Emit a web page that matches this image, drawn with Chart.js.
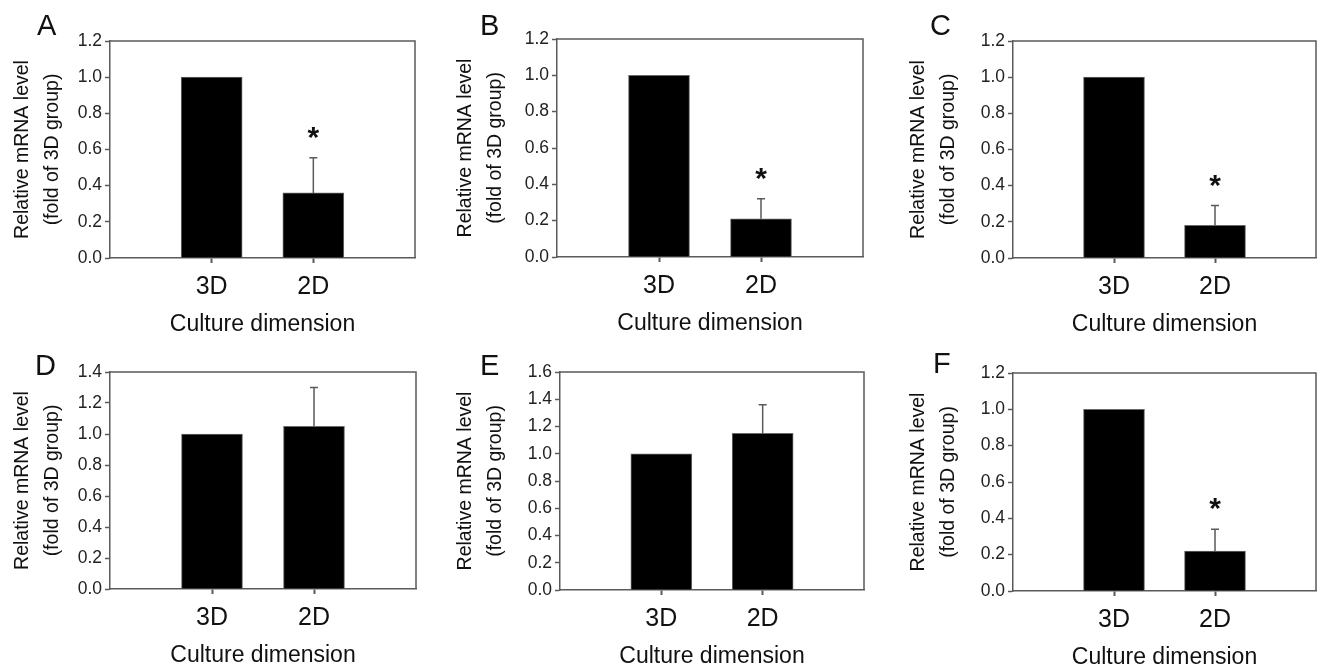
<!DOCTYPE html>
<html>
<head>
<meta charset="utf-8">
<script src="https://cdn.jsdelivr.net/npm/chart.js@4.4.1/dist/chart.umd.min.js"></script>
<style>
  html, body { margin: 0; padding: 0; background: #fff; }
  body { width: 1317px; height: 668px; position: relative; overflow: hidden; }
  canvas { position: absolute; }
</style>
</head>
<body>
<script>
// values
const panelNames = ['A', 'B', 'C', 'D', 'E', 'F'];
const groupLabels = ['3D', '2D'];
const value3D = [1.0, 1.0, 1.0, 1.0, 1.0, 1.0];
const value2D = [0.36, 0.21, 0.18, 1.05, 1.15, 0.22];
const error2D = [0.195, 0.11, 0.11, 0.25, 0.21, 0.12];
const starred = [true, true, true, false, false, true];
const yMaxima = [1.2, 1.2, 1.2, 1.4, 1.6, 1.2];
const yStep = 0.2;
const yTitleLines = ['Relative mRNA level', '(fold of 3D group)'];
const xTitleText = 'Culture dimension';

// page layout (px): plot box [left, top, right, bottom], panel letter [left, baseline], y title first line centre x
const plotBoxes = [[110, 41, 415, 258], [557, 39, 863, 257], [1013, 41, 1316, 258],
                   [110, 372, 416, 589], [560, 372, 864, 590], [1013, 373, 1316, 591]];
const letterSpots = [[37, 35], [480, 35], [930, 35], [35, 375], [480, 375], [933, 373]];
const yTitleCentres = [23, 466, 919, 23, 466, 919];

const FONT = '"Liberation Sans", Arial, Helvetica, sans-serif';
const AXIS = '#5a5a5a';
const NONE = 'rgba(0,0,0,0)';
const YAXIS_W = 115, XAXIS_H = 85, PAD_TOP = 45, PAD_RIGHT = 20;
const Y_TITLE_SIZE = 19.5, Y_TITLE_LH = 1.5;

// frame, error bars, asterisks and panel letter
const extrasPlugin = {
  id: 'extras',
  afterDraw(chart, args, opts) {
    const { ctx, chartArea: a, scales: { y } } = chart;
    ctx.save();
    ctx.strokeStyle = AXIS;
    ctx.lineWidth = 1.5;
    ctx.beginPath();
    ctx.moveTo(a.left, a.top);
    ctx.lineTo(a.right, a.top);
    ctx.lineTo(a.right, a.bottom);
    ctx.stroke();

    const meta = chart.getDatasetMeta(0);
    const values = chart.data.datasets[0].data;
    opts.errors.forEach((err, i) => {
      if (!err) return;
      const bar = meta.data[i];
      const yErr = y.getPixelForValue(values[i] + err);
      ctx.strokeStyle = AXIS;
      ctx.lineWidth = 1.5;
      ctx.beginPath();
      ctx.moveTo(bar.x, bar.y);
      ctx.lineTo(bar.x, yErr);
      ctx.moveTo(bar.x - 4, yErr);
      ctx.lineTo(bar.x + 4, yErr);
      ctx.stroke();
      if (opts.star) {
        ctx.fillStyle = '#111';
        ctx.font = 'bold 30px ' + FONT;
        ctx.textAlign = 'center';
        ctx.textBaseline = 'alphabetic';
        ctx.fillText('*', bar.x, yErr - 11);
      }
    });

    ctx.fillStyle = '#111';
    ctx.font = '29px ' + FONT;
    ctx.textAlign = 'left';
    ctx.textBaseline = 'alphabetic';
    ctx.fillText(opts.letter, opts.letterX, opts.letterY);
    ctx.restore();
  }
};

panelNames.forEach((name, i) => {
  const [L, T, R, B] = plotBoxes[i];
  const left = L - YAXIS_W;
  const top = T - PAD_TOP;
  const canvas = document.createElement('canvas');
  canvas.width = YAXIS_W + (R - L) + PAD_RIGHT;
  canvas.height = PAD_TOP + (B - T) + XAXIS_H;
  canvas.style.left = left + 'px';
  canvas.style.top = top + 'px';
  document.body.appendChild(canvas);

  const titlePad = yTitleCentres[i] - left - (Y_TITLE_SIZE * Y_TITLE_LH) / 2;

  new Chart(canvas, {
    type: 'bar',
    data: {
      labels: ['', ...groupLabels, ''],
      datasets: [{
        data: [null, value3D[i], value2D[i], null],
        backgroundColor: '#000',
        borderColor: '#6a6a6a',
        borderWidth: 1,
        barThickness: 61
      }]
    },
    options: {
      responsive: false,
      animation: false,
      devicePixelRatio: 1,
      layout: { padding: { left: 0, top: PAD_TOP, right: PAD_RIGHT, bottom: 0 } },
      plugins: {
        legend: { display: false },
        tooltip: { enabled: false },
        extras: {
          errors: [0, 0, error2D[i], 0],
          star: starred[i],
          letter: name,
          letterX: letterSpots[i][0] - left,
          letterY: letterSpots[i][1] - top
        }
      },
      scales: {
        x: {
          offset: false,
          afterFit: s => { s.height = XAXIS_H; },
          grid: {
            offset: false,
            drawOnChartArea: false,
            tickLength: 5,
            tickWidth: 2,
            tickColor: [NONE, AXIS, AXIS, NONE]
          },
          border: { color: AXIS, width: 1.5 },
          ticks: {
            autoSkip: false,
            maxRotation: 0,
            padding: 9,
            color: '#111',
            font: { family: FONT, size: 25, lineHeight: 1.2 }
          },
          title: {
            display: true,
            text: xTitleText,
            color: '#111',
            font: { family: FONT, size: 23, lineHeight: 1.2 },
            padding: { top: 0, bottom: 4.2 }
          }
        },
        y: {
          min: 0,
          max: yMaxima[i],
          afterFit: s => { s.width = YAXIS_W; },
          grid: {
            drawOnChartArea: false,
            tickLength: 5,
            tickWidth: 1.5,
            tickColor: AXIS
          },
          border: { color: AXIS, width: 1.5 },
          ticks: {
            stepSize: yStep,
            padding: 3,
            color: '#222',
            font: { family: FONT, size: 17.5 },
            callback: v => Number(v).toFixed(1)
          },
          title: {
            display: true,
            text: yTitleLines,
            color: '#111',
            font: { family: FONT, size: Y_TITLE_SIZE, lineHeight: Y_TITLE_LH },
            padding: { top: titlePad, bottom: 0 }
          }
        }
      }
    },
    plugins: [extrasPlugin]
  });
});
</script>
</body>
</html>
